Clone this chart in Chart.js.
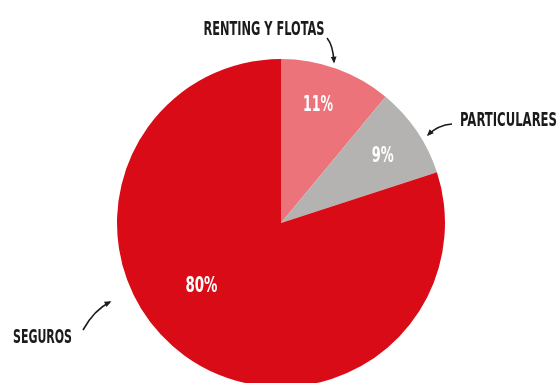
<!DOCTYPE html>
<html>
<head>
<meta charset="utf-8">
<script src="https://cdn.jsdelivr.net/npm/chart.js@4.4.0/dist/chart.umd.min.js"></script>
<style>
  html, body { margin: 0; padding: 0; background: #fff; overflow: hidden; }
  #wrap { position: relative; width: 558px; height: 390px; }
</style>
</head>
<body>
<div id="wrap"><canvas id="pie"></canvas></div>
<script>
// data
const categories = ["RENTING Y FLOTAS", "PARTICULARES", "SEGUROS"];
const shares = [11, 9, 80];
const sliceColors = ["#ec7379", "#b5b3b1", "#d90b17"];

const FONT = '"Liberation Sans Narrow", "DejaVu Sans Condensed", sans-serif';

// draw text squeezed horizontally to a given width, like the condensed poster font
function condensedText(ctx, text, x, y, size, color, align, width) {
    ctx.save();
    ctx.font = "bold " + size + "px " + FONT;
    ctx.fillStyle = color;
    ctx.textBaseline = "middle";
    const squeeze = width / ctx.measureText(text).width;
    let left = x;
    if (align === "center") left = x - width / 2;
    if (align === "right") left = x - width;
    ctx.translate(left, y);
    ctx.scale(squeeze, 1);
    ctx.textAlign = "left";
    ctx.fillText(text, 0, 0);
    ctx.restore();
}

function arrow(ctx, x0, y0, cx, cy, x1, y1) {
    ctx.save();
    ctx.strokeStyle = "#1b1b1b";
    ctx.fillStyle = "#1b1b1b";
    ctx.lineWidth = 1.6;
    ctx.beginPath();
    ctx.moveTo(x0, y0);
    ctx.quadraticCurveTo(cx, cy, x1, y1);
    ctx.stroke();
    const a = Math.atan2(y1 - cy, x1 - cx);
    const len = 6;
    ctx.beginPath();
    ctx.moveTo(x1 + Math.cos(a) * 1.5, y1 + Math.sin(a) * 1.5);
    ctx.lineTo(x1 - Math.cos(a - 0.5) * len, y1 - Math.sin(a - 0.5) * len);
    ctx.lineTo(x1 - Math.cos(a + 0.5) * len, y1 - Math.sin(a + 0.5) * len);
    ctx.closePath();
    ctx.fill();
    ctx.restore();
}

// percent labels inside the slices + callout names with arrows
const sliceLabels = {
    id: "sliceLabels",
    afterDatasetsDraw(chart) {
        const ctx = chart.ctx;
        const arcs = chart.getDatasetMeta(0).data;
        const place = [
            { frac: 0.75, shift: -0.04, width: 30 },
            { frac: 0.74, shift: 0.02, width: 22 },
            { frac: 0.62, shift: 0.27, width: 32 }
        ];
        arcs.forEach((arc, i) => {
            const mid = (arc.startAngle + arc.endAngle) / 2 + place[i].shift;
            const r = arc.outerRadius * place[i].frac;
            const x = arc.x + Math.cos(mid) * r;
            const y = arc.y + Math.sin(mid) * r;
            condensedText(ctx, shares[i] + "%", x, y, 21, "#ffffff", "center", place[i].width);
        });

        condensedText(ctx, categories[0], 264, 30, 20, "#1b1b1b", "center", 121);
        condensedText(ctx, categories[1], 557, 121, 20, "#1b1b1b", "right", 97);
        condensedText(ctx, categories[2], 13, 338, 20, "#1b1b1b", "left", 59);

        arrow(ctx, 327, 38, 333, 45, 334, 62);
        arrow(ctx, 452, 124, 438, 125, 428, 135);
        arrow(ctx, 83, 330, 94, 310, 110, 302);
    }
};

new Chart(document.getElementById("pie"), {
    type: "pie",
    data: {
        labels: categories,
        datasets: [{
            data: shares,
            backgroundColor: sliceColors,
            borderWidth: 0,
            hoverOffset: 0
        }]
    },
    options: {
        responsive: true,
        maintainAspectRatio: false,
        animation: false,
        layout: { padding: { top: 59, bottom: 3, left: 117, right: 113 } },
        plugins: {
            legend: { display: false },
            tooltip: { enabled: false }
        }
    },
    plugins: [sliceLabels]
});
</script>
</body>
</html>
